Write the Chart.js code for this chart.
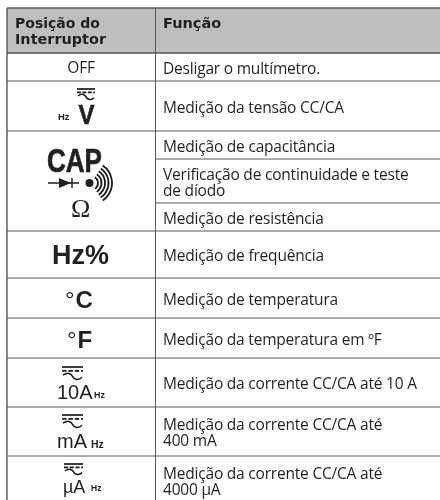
<!DOCTYPE html>
<html>
<head>
<meta charset="utf-8">
<title>Posição do Interruptor</title>
<script src="https://cdn.jsdelivr.net/npm/chart.js@4"></script>
<style>
  html, body { margin: 0; padding: 0; background: #fff; }
  canvas { display: block; }
</style>
</head>
<body>
<canvas id="tabela" width="440" height="500"></canvas>
<script>
const cabecalhoPosicao = ["Posição do", "Interruptor"];
const cabecalhoFuncao = "Função";

const funcoes = [
  ["Desligar o multímetro."],
  ["Medição da tensão CC/CA"],
  ["Medição de capacitância"],
  ["Verificação de continuidade e teste", "de díodo"],
  ["Medição de resistência"],
  ["Medição de frequência"],
  ["Medição de temperatura"],
  ["Medição da temperatura em ºF"],
  ["Medição da corrente CC/CA até 10 A"],
  ["Medição da corrente CC/CA até", "400 mA"],
  ["Medição da corrente CC/CA até", "4000 µA"],
];

// limites das linhas (o ultimo fica fora do recorte)
const limitesCabecalho = [8, 53];
const limitesLinhas = [81, 131, 231, 278, 318, 358, 407, 456];
const limitesSub = [159, 203];
const limiteFinal = 505;
const colunas = [7, 155.5, 440];

const corLinha = "#555759";
const corFaixa = "#bcbec0";
const corTexto = "#231f20";
const fonteCorpo = '"Open Sans"';
const fonteIcone = '"Liberation Sans"';

function segmento(x0, x1, y0, y1, largura) {
  return {
    data: [{ x: x0, y: y0 }, { x: x1, y: y1 }],
    pointRadius: 0,
    borderColor: corLinha,
    borderWidth: largura,
  };
}

const datasets = [];

limitesCabecalho.forEach(y => datasets.push(segmento(colunas[0], colunas[2], y, y, 1.5)));
limitesLinhas.forEach(y => datasets.push(segmento(colunas[0], colunas[2], y, y, 1.2)));
limitesSub.forEach(y => datasets.push(segmento(colunas[1], colunas[2], y, y, 1)));
datasets.push(segmento(colunas[0], colunas[0], limitesCabecalho[0], limiteFinal, 1.4));
datasets.push(segmento(colunas[1], colunas[1], limitesCabecalho[0], limiteFinal, 1));

function simboloCcCa(ctx, px, py, x0, x1, y, h) {
  const xa = px(x0), xb = px(x1), w = xb - xa;
  ctx.strokeStyle = "#1a1a1a";
  ctx.lineWidth = 1.7;
  ctx.beginPath();
  ctx.moveTo(xa, py(y));
  ctx.lineTo(xb, py(y));
  ctx.stroke();
  ctx.setLineDash([w / 4.6, w / 12]);
  ctx.beginPath();
  ctx.moveTo(xa, py(y + h * 0.3));
  ctx.lineTo(xb, py(y + h * 0.3));
  ctx.stroke();
  ctx.setLineDash([]);
  ctx.lineWidth = 1.5;
  ctx.beginPath();
  ctx.moveTo(xa + 1, py(y + h * 0.62));
  ctx.bezierCurveTo(xa + w * 0.3, py(y + h * 0.35), xa + w * 0.45, py(y + h * 0.55), xa + w * 0.5, py(y + h * 0.72));
  ctx.bezierCurveTo(xa + w * 0.6, py(y + h * 1.05), xa + w * 0.85, py(y + h * 1.0), xb - 1, py(y + h * 0.78));
  ctx.stroke();
}

function texto(ctx, px, py, str, x, y, fonte, maxW) {
  ctx.font = fonte;
  if (maxW) ctx.fillText(str, px(x), py(y), maxW);
  else ctx.fillText(str, px(x), py(y));
}

const tabelaTexto = {
  id: "tabelaTexto",
  beforeDatasetsDraw(chart) {
    // faixa cinzenta do cabecalho
    const { x, y } = chart.scales;
    const ctx = chart.ctx;
    ctx.save();
    ctx.fillStyle = corFaixa;
    ctx.fillRect(
      x.getPixelForValue(colunas[0]),
      y.getPixelForValue(limitesCabecalho[0]),
      x.getPixelForValue(colunas[2]) - x.getPixelForValue(colunas[0]),
      y.getPixelForValue(limitesCabecalho[1]) - y.getPixelForValue(limitesCabecalho[0])
    );
    ctx.restore();
  },
  afterDatasetsDraw(chart) {
    const ctx = chart.ctx;
    const px = v => chart.scales.x.getPixelForValue(v);
    const py = v => chart.scales.y.getPixelForValue(v);
    ctx.save();
    ctx.textBaseline = "alphabetic";
    ctx.textAlign = "left";
    ctx.fillStyle = corTexto;

    // cabecalho
    const fonteCab = 'bold 14.5px "DejaVu Sans"';
    texto(ctx, px, py, cabecalhoPosicao[0], 15, 28, fonteCab, 85);
    texto(ctx, px, py, cabecalhoPosicao[1], 15, 44, fonteCab, 91);
    texto(ctx, px, py, cabecalhoFuncao, 163, 28, fonteCab);

    // coluna da funcao, centrada em cada celula
    ctx.font = `15.5px ${fonteCorpo}`;
    ctx.letterSpacing = "-0.2px";
    const limites = [limitesCabecalho[1], ...limitesLinhas, ...limitesSub, limiteFinal].sort((a, b) => a - b);
    funcoes.forEach((linhas, i) => {
      const meio = (limites[i] + limites[i + 1]) / 2;
      linhas.forEach((l, k) => {
        const y = meio + 6.5 + (k - (linhas.length - 1) / 2) * 16;
        ctx.fillText(l, px(colunas[1] + 7.5), py(y));
      });
    });

    // coluna da posicao
    ctx.textAlign = "center";
    texto(ctx, px, py, "OFF", 81, 73, `15.5px ${fonteCorpo}`);
    ctx.letterSpacing = "0px";

    ctx.textAlign = "left";
    simboloCcCa(ctx, px, py, 77, 95, 89, 11);
    texto(ctx, px, py, "V", 78.5, 124, `bold 28px ${fonteIcone}`, 16);
    ctx.lineWidth = 0.6;
    ctx.strokeStyle = corTexto;
    ctx.strokeText("V", px(78.5), py(124), 16);
    texto(ctx, px, py, "Hz", 58, 120, `bold 9.5px ${fonteIcone}`);

    texto(ctx, px, py, "CAP", 47, 172, `bold 34px ${fonteIcone}`, 55);
    ctx.lineWidth = 0.7;
    ctx.strokeText("CAP", px(47), py(172), 55);

    // diodo e sinal sonoro
    ctx.strokeStyle = "#1a1a1a";
    ctx.lineWidth = 1.4;
    ctx.beginPath();
    ctx.moveTo(px(48), py(183));
    ctx.lineTo(px(79), py(183));
    ctx.moveTo(px(72), py(178));
    ctx.lineTo(px(72), py(188));
    ctx.stroke();
    ctx.beginPath();
    ctx.moveTo(px(59), py(178));
    ctx.lineTo(px(71), py(183));
    ctx.lineTo(px(59), py(188));
    ctx.closePath();
    ctx.fill();
    ctx.beginPath();
    ctx.arc(px(89.5), py(183), 4, 0, Math.PI * 2);
    ctx.fill();
    ctx.lineWidth = 1.8;
    [7, 10.5, 14, 17.5, 21].forEach(r => {
      ctx.beginPath();
      ctx.arc(px(91), py(183), r, -Math.PI / 3.2, Math.PI / 3.2);
      ctx.stroke();
    });

    texto(ctx, px, py, "Ω", 71, 217, `26px "Liberation Serif"`);
    texto(ctx, px, py, "Hz%", 52, 264, `bold 27px ${fonteIcone}`);
    texto(ctx, px, py, "°", 65, 308, `24px ${fonteIcone}`);
    texto(ctx, px, py, "C", 75.5, 308, `bold 24px ${fonteIcone}`);
    texto(ctx, px, py, "°", 67, 348, `24px ${fonteIcone}`);
    texto(ctx, px, py, "F", 77.5, 348, `bold 24px ${fonteIcone}`);

    simboloCcCa(ctx, px, py, 62, 83, 367, 13);
    texto(ctx, px, py, "10A", 57, 399, `20px ${fonteIcone}`);
    texto(ctx, px, py, "Hz", 94, 398, `bold 9px ${fonteIcone}`);

    simboloCcCa(ctx, px, py, 62, 83, 415, 13);
    texto(ctx, px, py, "mA", 57, 448, `20px ${fonteIcone}`, 31);
    texto(ctx, px, py, "Hz", 91, 448, `bold 10.5px ${fonteIcone}`);

    simboloCcCa(ctx, px, py, 64, 83, 464, 11);
    texto(ctx, px, py, "µA", 63, 493, `18px ${fonteIcone}`);
    texto(ctx, px, py, "Hz", 91, 491, `bold 8.5px ${fonteIcone}`);

    ctx.restore();
  },
};

new Chart(document.getElementById("tabela"), {
  type: "line",
  data: { datasets },
  plugins: [tabelaTexto],
  options: {
    responsive: false,
    animation: false,
    layout: { padding: 0 },
    plugins: { legend: { display: false }, tooltip: { enabled: false } },
    scales: {
      x: { type: "linear", min: 0, max: 440, display: false },
      y: { type: "linear", min: 0, max: 500, reverse: true, display: false },
    },
  },
});
</script>
</body>
</html>
